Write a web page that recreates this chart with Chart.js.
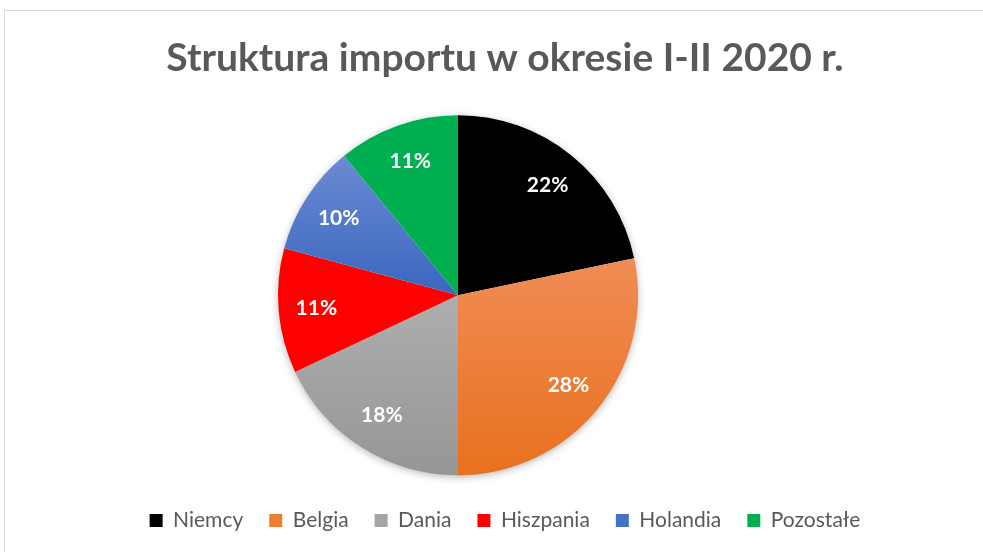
<!DOCTYPE html>
<html lang="pl">
<head>
<meta charset="utf-8">
<title>Struktura importu w okresie I-II 2020 r.</title>
<script src="https://cdn.jsdelivr.net/npm/chart.js@4/dist/chart.umd.min.js"></script>
<style>
    html, body { margin: 0; padding: 0; background: #fff; overflow: hidden; }
    #frame {
        position: absolute; left: 4px; top: 10px;
        width: 1010px; height: 560px;
        border-left: 1px solid #d9d9d9; border-top: 1px solid #d9d9d9;
    }
    #chart { display: block; }
</style>
</head>
<body>
<div id="frame">
    <canvas id="chart" width="1000" height="541"></canvas>
</div>
<script>
// data (share of import, %)
const countries = ['Niemcy', 'Belgia', 'Dania', 'Hiszpania', 'Holandia', 'Pozostałe'];
const shares = [21.7, 28.3, 18.0, 11.2, 9.9, 10.9];
const legendColors = ['#000000', '#ED7D31', '#A5A5A5', '#FF0000', '#4472C4', '#00B050'];
const chartTitle = 'Struktura importu w okresie I-II 2020 r.';

const textGray = '#595959';
const fontName = 'Lato, "Open Sans", sans-serif';

// fills, some with a light vertical gradient like the office style
const sliceFills = [
    '#000000',
    [[0.4, '#F08C55'], [1, '#E8701C']],
    [[0.5, '#AEAEAE'], [1, '#959595']],
    '#FF0000',
    [[0.1, '#6F8ED4'], [0.5, '#3A66BF']],
    '#00B050'
];

function sliceColor(context) {
    const fill = sliceFills[context.dataIndex];
    if (typeof fill === 'string') return fill;
    const chart = context.chart;
    const area = chart.chartArea;
    if (!area) return fill[0][1];
    const g = chart.ctx.createLinearGradient(0, area.top, 0, area.bottom);
    fill.forEach(s => g.addColorStop(s[0], s[1]));
    return g;
}

// keeps the pie a little left of the title / legend centre
const rightSpacer = {
    id: 'rightSpacer',
    beforeInit(chart) {
        Chart.layouts.addBox(chart, {
            position: 'right',
            weight: 0,
            fullSize: false,
            options: {},
            left: 0, top: 0, right: 0, bottom: 0, width: 0, height: 0,
            isHorizontal() { return false; },
            update(maxWidth, maxHeight) { this.width = 94; this.height = maxHeight; },
            draw() {}
        });
    }
};

// soft shadow under the pie
const pieShadow = {
    id: 'pieShadow',
    beforeDatasetsDraw(chart) {
        const arc = chart.getDatasetMeta(0).data[0];
        if (!arc) return;
        const { x, y, outerRadius } = arc.getProps(['x', 'y', 'outerRadius'], true);
        const ctx = chart.ctx;
        ctx.save();
        ctx.shadowColor = 'rgba(0, 0, 0, 0.35)';
        ctx.shadowBlur = 8;
        ctx.shadowOffsetY = 2;
        ctx.fillStyle = '#ffffff';
        ctx.beginPath();
        ctx.arc(x, y, outerRadius - 1, 0, Math.PI * 2);
        ctx.fill();
        ctx.restore();
    }
};

// percentage labels inside the slices
const percentLabels = {
    id: 'percentLabels',
    afterDatasetsDraw(chart) {
        const ctx = chart.ctx;
        const values = chart.data.datasets[0].data;
        const total = values.reduce((a, b) => a + b, 0);
        ctx.save();
        ctx.font = 'bold 21px ' + fontName;
        ctx.fillStyle = '#ffffff';
        ctx.textAlign = 'center';
        ctx.textBaseline = 'middle';
        chart.getDatasetMeta(0).data.forEach((arc, i) => {
            const p = arc.getProps(['x', 'y', 'startAngle', 'endAngle', 'outerRadius'], true);
            const mid = (p.startAngle + p.endAngle) / 2;
            const r = p.outerRadius * 0.79;
            ctx.fillText(Math.round(values[i] / total * 100) + '%', p.x + Math.cos(mid) * r, p.y + Math.sin(mid) * r);
        });
        ctx.restore();
    }
};

const chartEl = document.getElementById('chart').getContext('2d');

const importChart = new Chart(chartEl, {
    type: 'pie',
    data: {
        labels: countries,
        datasets: [{
            label: 'Import',
            data: shares,
            backgroundColor: sliceColor,
            borderWidth: 0,
            radius: 180
        }]
    },
    options: {
        responsive: false,
        animation: false,
        layout: { padding: { bottom: 11 } },
        plugins: {
            title: {
                display: true,
                text: chartTitle,
                color: textGray,
                font: { family: fontName, size: 39, weight: 'bold', lineHeight: 1.2 },
                padding: { top: 24, bottom: 24.7 }
            },
            legend: {
                display: true,
                position: 'bottom',
                labels: {
                    color: textGray,
                    font: { family: fontName, size: 21 },
                    boxWidth: 13,
                    boxHeight: 13,
                    padding: 26,
                    generateLabels(chart) {
                        return countries.map((text, i) => ({
                            text: text,
                            fillStyle: legendColors[i],
                            strokeStyle: legendColors[i],
                            lineWidth: 0,
                            fontColor: textGray,
                            hidden: !chart.getDataVisibility(i),
                            index: i
                        }));
                    }
                }
            },
            tooltip: { enabled: false }
        }
    },
    plugins: [rightSpacer, pieShadow, percentLabels]
});
</script>
</body>
</html>
